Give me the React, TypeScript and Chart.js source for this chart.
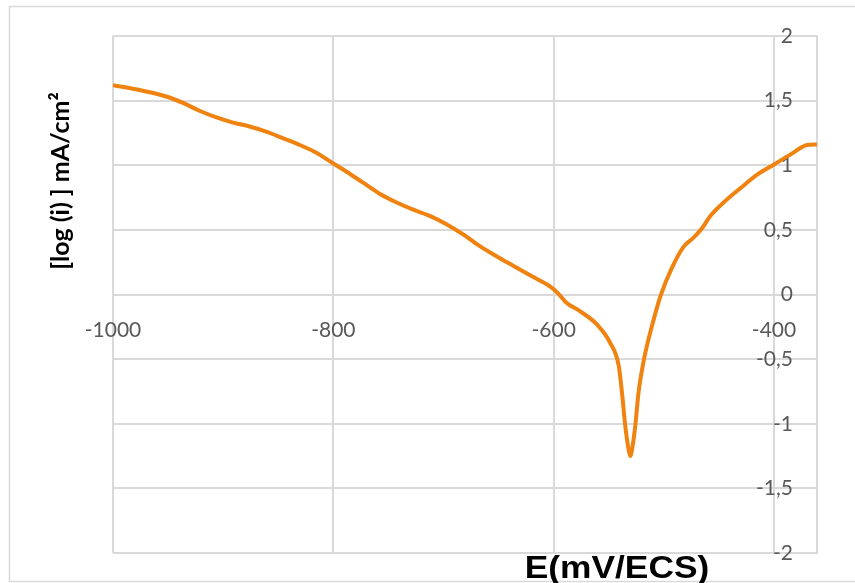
import React, { useEffect, useRef } from "react";
import { Chart, registerables } from "chart.js";

Chart.register(...registerables);

// E (mV/ECS)
const potentials = [
  -1000, -975, -951, -936, -921, -906, -891, -876, -861, -846, -830, -815, -803, -788, -773,
  -758, -742, -728, -712, -697, -682, -667, -652, -636, -621, -606, -600, -594, -589, -576,
  -561, -549, -541, -538, -535, -532, -530.5, -528.5, -526, -523, -518, -511, -503, -493,
  -482, -473, -465, -458, -446, -430, -415, -400, -385, -370, -361,
];
// log(i) mA/cm²
const logCurrents = [
  1.62, 1.58, 1.53, 1.48, 1.42, 1.37, 1.33, 1.3, 1.26, 1.21, 1.155, 1.095, 1.03, 0.95, 0.865,
  0.78, 0.71, 0.658, 0.606, 0.542, 0.464, 0.374, 0.296, 0.219, 0.147, 0.077, 0.04, -0.01, -0.06, -0.13,
  -0.23, -0.37, -0.55, -0.76, -1.02, -1.2, -1.25, -1.18, -1.02, -0.76, -0.5, -0.25, -0.01, 0.2,
  0.37, 0.44, 0.516, 0.606, 0.71, 0.826, 0.929, 1.006, 1.084, 1.156, 1.161,
];

const xTicks = [-1000, -800, -600, -400];
const yTicks = [-2, -1.5, -1, -0.5, 0, 0.5, 1, 1.5, 2];
const xMin = -1000;
const xMax = -361;
const xTitle = "E(mV/ECS)";
const yTitle = "[log (i) ] mA/cm²";

export default function App() {
  const ref = useRef<HTMLCanvasElement>(null);

  useEffect(() => {
    document.body.style.margin = "0";
    const canvas = ref.current;
    if (!canvas) return;

    const decor = {
      id: "decor",
      beforeDraw(chart: any) {
        const ctx = chart.ctx;
        ctx.save();
        ctx.strokeStyle = "#d9d9d9";
        ctx.lineWidth = 1.5;
        ctx.strokeRect(9.5, 6.5, 900, 575);
        ctx.restore();
      },
      afterDraw(chart: any) {
        const ctx = chart.ctx;
        ctx.save();
        ctx.fillStyle = "#000000";
        // y title
        ctx.translate(61, 181);
        ctx.rotate(-Math.PI / 2);
        ctx.font = "bold 25px Lato";
        ctx.textAlign = "center";
        ctx.textBaseline = "middle";
        ctx.fillText(yTitle, 0, 0);
        ctx.restore();

        ctx.save();
        ctx.fillStyle = "#000000";
        ctx.translate(617, 578);
        ctx.scale(1.14, 1);
        ctx.font = "bold 31px 'Liberation Sans'";
        ctx.textAlign = "center";
        ctx.textBaseline = "alphabetic";
        ctx.fillText(xTitle, 0, 0);
        ctx.restore();
      },
    };

    const chart = new Chart(canvas, {
      type: "scatter",
      data: {
        datasets: [
          {
            data: potentials.map((x, i) => ({ x, y: logCurrents[i] })),
            showLine: true,
            borderColor: "#F0820F",
            borderWidth: 4,
            pointRadius: 0,
            cubicInterpolationMode: "monotone",
            fill: false,
          },
        ],
      },
      options: {
        responsive: false,
        animation: false,
        devicePixelRatio: 1,
        layout: { padding: { left: 113, top: 36, right: 38, bottom: 30 } },
        plugins: { legend: { display: false }, tooltip: { enabled: false } },
        scales: {
          x: {
            type: "linear",
            min: xMin,
            max: xMax,
            position: { y: 0 } as any,
            afterBuildTicks: (s: any) => {
              s.ticks = xTicks.map((v) => ({ value: v }));
            },
            ticks: {
              color: "#595959",
              font: { family: "Lato", size: 21 },
              padding: 23,
              maxRotation: 0,
              autoSkip: false,
              callback: (v: any) => String(v),
            },
            grid: { color: "#d9d9d9", lineWidth: 2, drawTicks: false },
            border: { display: true, color: "#d9d9d9", width: 2 },
          },
          y: {
            type: "linear",
            position: "right",
            min: -2,
            max: 2,
            afterBuildTicks: (s: any) => {
              s.ticks = yTicks.map((v) => ({ value: v }));
            },
            afterFit: (s: any) => {
              s.width = 0;
            },
            ticks: {
              color: "#595959",
              font: { family: "Lato", size: 21 },
              mirror: true,
              padding: -24,
              autoSkip: false,
              callback: (v: any) => String(v).replace(".", ","),
            },
            grid: { color: "#d9d9d9", lineWidth: 2, drawTicks: false },
            border: { display: true, color: "#d9d9d9", width: 2 },
          },
        },
      },
      plugins: [decor],
    });
    return () => chart.destroy();
  }, []);

  return (
    <div style={{ width: 855, height: 583, position: "relative", background: "#fff" }}>
      <canvas ref={ref} width={855} height={583} style={{ display: "block" }} />
    </div>
  );
}
